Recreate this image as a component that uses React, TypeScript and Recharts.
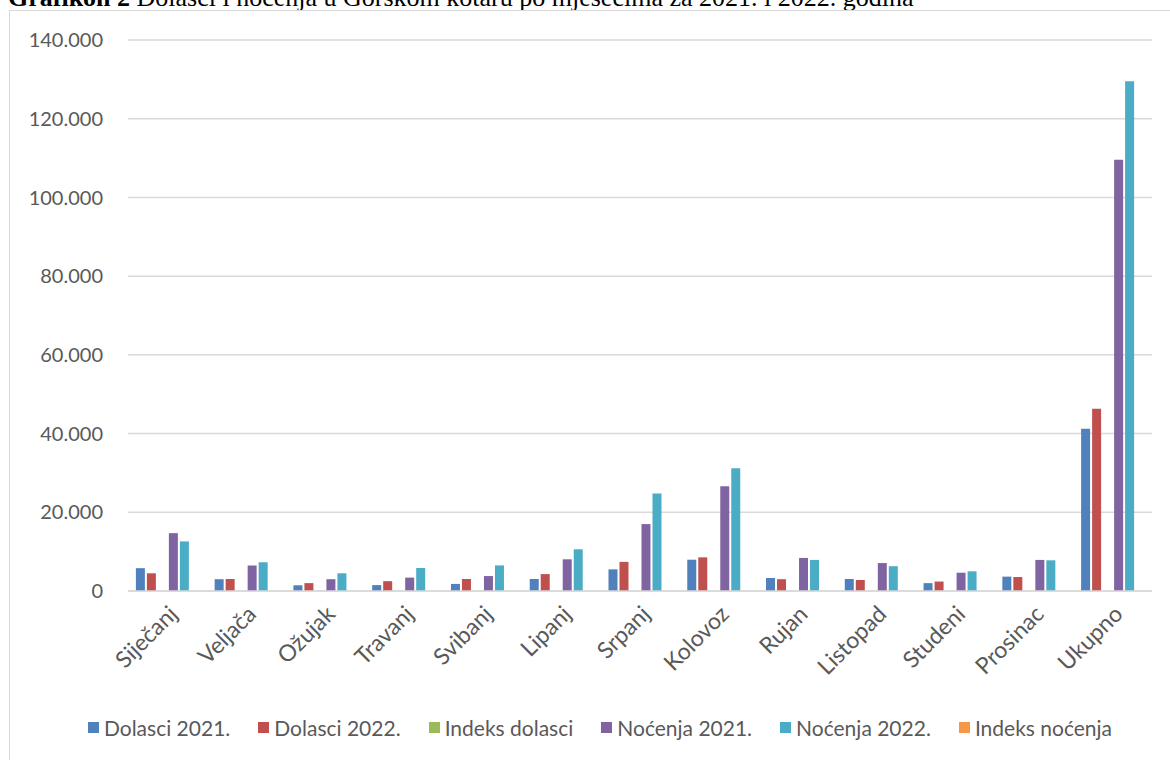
import { BarChart, Bar, XAxis, YAxis, CartesianGrid, Legend } from "recharts";

const months = [
  "Siječanj", "Veljača", "Ožujak", "Travanj", "Svibanj", "Lipanj", "Srpanj",
  "Kolovoz", "Rujan", "Listopad", "Studeni", "Prosinac", "Ukupno",
];
const dolasci2021 = [5800, 3000, 1450, 1500, 1800, 3050, 5500, 7950, 3300, 3050, 2000, 3650, 41200];
const dolasci2022 = [4500, 3050, 2000, 2500, 3050, 4300, 7400, 8550, 3000, 2800, 2400, 3550, 46300];
// index series are not visible at this scale
const indeksDolasci = [0, 0, 0, 0, 0, 0, 0, 0, 0, 0, 0, 0, 0];
const nocenja2021 = [14700, 6500, 3000, 3400, 3800, 8050, 17000, 26600, 8400, 7100, 4650, 7900, 109600];
const nocenja2022 = [12600, 7300, 4500, 5850, 6500, 10600, 24800, 31200, 7900, 6300, 5000, 7800, 129500];
const indeksNocenja = [0, 0, 0, 0, 0, 0, 0, 0, 0, 0, 0, 0, 0];
const yTicks = [0, 20000, 40000, 60000, 80000, 100000, 120000, 140000];

const seriesNames = ["Dolasci 2021.", "Dolasci 2022.", "Indeks dolasci", "Noćenja 2021.", "Noćenja 2022.", "Indeks noćenja"];
const seriesKeys = ["d21", "d22", "id", "n21", "n22", "in"];
const seriesColors = ["#4F81BD", "#C0504D", "#9BBB59", "#8064A2", "#4BACC6", "#F79646"];

const data = months.map((m, i) => ({
  name: m,
  d21: dolasci2021[i],
  d22: dolasci2022[i],
  id: indeksDolasci[i],
  n21: nocenja2021[i],
  n22: nocenja2022[i],
  in: indeksNocenja[i],
}));

const FONT = "Lato, Carlito, Calibri, sans-serif";
const TEXT = "#595959";

const fmt = (v: number) => (v === 0 ? "0" : v.toLocaleString("de-DE"));

const LegendBox = () => (
  <div style={{ display: "flex", justifyContent: "center", gap: 28, fontFamily: FONT, fontSize: 21, color: TEXT }}>
    {seriesNames.map((n, i) => (
      <div key={n} style={{ display: "flex", alignItems: "center", whiteSpace: "nowrap" }}>
        <span style={{ display: "inline-block", width: 11, height: 11, background: seriesColors[i], marginRight: 5 }} />
        {n}
      </div>
    ))}
  </div>
);

const App = () => {
  return (
    <div style={{ position: "fixed", left: 0, top: 0, width: 1170, height: 760, overflow: "hidden", background: "#fff" }}>
      <div
        style={{
          position: "absolute",
          left: 8,
          top: -17,
          fontFamily: "'Liberation Serif', 'Times New Roman', serif",
          fontSize: 26,
          lineHeight: "30px",
          color: "#000",
          whiteSpace: "nowrap",
        }}
      >
        <b>Grafikon 2</b> Dolasci i noćenja u Gorskom kotaru po mjesecima za 2021. i 2022. godina
      </div>
      <div
        style={{
          position: "absolute",
          left: 9,
          top: 10,
          width: 1200,
          height: 800,
          border: "1.5px solid #d9d9d9",
        }}
      />
      <div style={{ position: "absolute", left: 0, top: 0 }}>
        <BarChart
          width={1170}
          height={760}
          data={data}
          margin={{ top: 40, right: 18, bottom: 0, left: 0 }}
          barCategoryGap="10%"
          barGap={2}
        >
          <CartesianGrid vertical={false} stroke="#d9d9d9" strokeWidth={1.5} />
          <XAxis
            dataKey="name"
            height={140}
            interval={0}
            tickLine={false}
            axisLine={{ stroke: "#d9d9d9", strokeWidth: 1.5 }}
            tick={{ fill: TEXT, fontSize: 23, fontFamily: FONT }}
            angle={-45}
            textAnchor="end"
            tickMargin={7}
          />
          <YAxis
            width={128}
            domain={[0, 140000]}
            ticks={yTicks}
            tickFormatter={fmt}
            tickLine={false}
            axisLine={false}
            tickMargin={19}
            tick={{ fill: TEXT, fontSize: 20, fontFamily: FONT }}
          />
          <Legend
            verticalAlign="bottom"
            content={() => <LegendBox />}
            wrapperStyle={{ left: 0, width: 1200, bottom: 16, height: 29 }}
          />
          {seriesKeys.map((k, i) => (
            <Bar key={k} dataKey={k} name={seriesNames[i]} fill={seriesColors[i]} isAnimationActive={false} />
          ))}
        </BarChart>
      </div>
    </div>
  );
};

export default App;
